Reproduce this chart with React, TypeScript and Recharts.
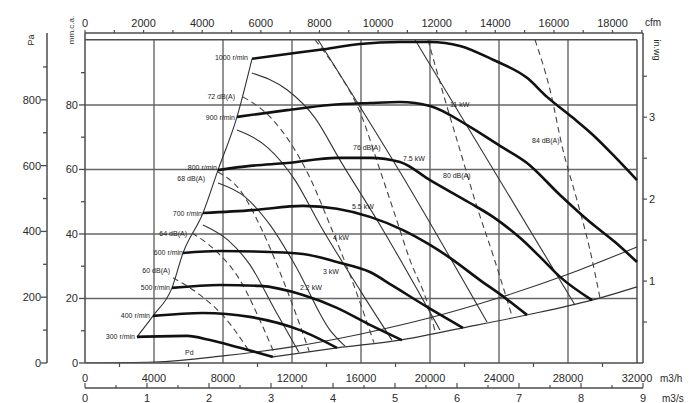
import React from 'react';
import { ComposedChart, Line, XAxis, YAxis, ReferenceLine, Scatter } from 'recharts';

type P = [number, number]; // [m3/h, mm.c.a.]

// Fan speed curves (r/min)
const rpm1000: P[] = [[9681,94.3],[11304,95.5],[13623,97.1],[15942,98.9],[18261,99.5],[20000,99.5],[21739,98.3],[23652,94.0],[25623,88.4],[26782,82.5],[28289,76.0],[29449,70.7],[30724,63.9],[32000,56.7]];
const rpm900: P[] = [[8811,76.3],[11710,78.4],[14203,80.0],[16521,80.6],[18261,80.9],[20000,79.7],[22318,73.2],[24058,67.3],[25623,62.0],[27536,52.1],[29275,43.7],[30724,37.5],[32000,31.3]];
const rpm800: P[] = [[7710,59.8],[9565,61.1],[11710,62.0],[14608,63.6],[16521,63.6],[18261,62.3],[20000,56.7],[22318,49.6],[23652,45.3],[25217,38.8],[26376,32.9],[27536,26.7],[29391,19.5]];
const rpm700: P[] = [[6840,46.5],[9739,47.4],[12637,48.7],[14608,47.8],[16521,45.3],[18434,41.2],[20000,36.6],[21159,32.6],[22898,25.7],[24347,20.2],[25623,14.9]];
const rpm600: P[] = [[5681,34.1],[7826,34.7],[10724,34.4],[12637,33.8],[14608,31.3],[16521,28.2],[17855,23.9],[19826,17.4],[21913,10.9]];
const rpm500: P[] = [[5043,23.3],[7826,24.2],[10145,23.9],[12637,21.1],[14608,17.1],[16521,11.8],[18376,7.1]];
const rpm400: P[] = [[3942,14.6],[6840,15.5],[9565,14.3],[12464,10.2],[14608,4.7]];
const rpm300: P[] = [[3014,8.1],[5913,8.4],[7246,7.1],[8985,4.7],[10898,1.9]];

// Thin curves
const boundary: P[] = [[3014,8.1],[3942,14.6],[5043,23.3],[5681,34.1],[6840,46.5],[7710,59.8],[8811,76.3],[9681,94.3]];
const limitCurve: P[] = [[10898,1.9],[14608,4.7],[18261,7.1],[21913,10.9],[25623,14.9],[29391,19.5],[32000,23.6]];
const pdCurve: P[] = [[0,0],[4000,0.3],[8000,2.2],[12000,5.0],[16000,9.0],[20000,14.0],[24000,20.2],[28000,27.5],[32000,36.0]];

// Power lines (kW)
const kw11: P[] = [[19130,100.2],[28405,18.0]];
const kw75: P[] = [[13507,100.2],[18261,59.2],[23304,12.7]];
const kw55: P[] = [[9681,89.9],[11710,84.7],[13333,76.0],[14782,62.9],[17101,42.8],[20579,10.2]];
const kw4: P[] = [[8811,72.2],[10609,66.7],[12174,56.7],[13623,42.8],[15942,22.6],[17797,7.1]];
const kw3: P[] = [[7710,55.8],[9275,51.5],[10724,42.8],[12174,30.4],[14203,10.2],[15072,5.2]];
const kw22: P[] = [[6840,42.8],[8290,38.1],[9565,30.4],[11014,16.4],[12400,3.3]];

// Sound level lines dB(A)
const db84: P[] = [[26087,100.2],[26956,84.7],[27710,66.0],[28521,50.5],[29275,35.0],[29855,20.2]];
const db80: P[] = [[19884,100.2],[20869,81.6],[21739,66.0],[22724,48.4],[23652,33.5],[24753,14.6]];
const db76: P[] = [[13333,100.2],[14782,89.3],[15942,77.8],[17101,59.8],[17971,45.9],[18840,31.9],[19884,18.0],[20290,9.9]];
const db72: P[] = [[9159,82.5],[10724,76.3],[12174,66.0],[13043,57.4],[14203,42.8],[15362,27.3],[16750,6.3]];
const db68: P[] = [[7710,59.2],[8985,53.6],[10261,41.2],[11594,24.2],[13000,3.6]];
const db64: P[] = [[6203,40.3],[7536,35.0],[8985,25.7],[10261,11.8],[11014,2.5]];
const db60: P[] = [[5100,26.4],[6667,21.1],[8116,14.0],[9600,3.0]];

// Annotations [m3/h, mm, text]
const labelsEnd: [number, number, string][] = [
  [9449,94.6,'1000 r/min'],[8696,76.0,'900 r/min'],[7652,60.5,'800 r/min'],[6782,46.5,'700 r/min'],
  [5681,34.4,'600 r/min'],[4927,23.3,'500 r/min'],[3768,14.6,'400 r/min'],[2899,8.1,'300 r/min'],
  [8696,82.5,'72 dB(A)'],[6956,57.1,'68 dB(A)'],[5913,40.3,'64 dB(A)'],[4927,28.8,'60 dB(A)'],
];
const labelsStart: [number, number, string][] = [
  [15536,66.7,'76 dB(A)'],[20753,58.0,'80 dB(A)'],[25913,69.1,'84 dB(A)'],[21159,80.0,'11 kW'],
  [18434,63.3,'7.5 kW'],[15478,48.4,'5.5 kW'],[14377,38.8,'4 kW'],[13797,28.5,'3 kW'],[12464,23.3,'2.2 kW'],[5797,3.4,'Pd'],
];

// Axes
const qTicks = [0,2000,4000,6000,8000,10000,12000,14000,16000,18000,20000,22000,24000,26000,28000,30000,32000];
const qGrid = [4000,8000,12000,16000,20000,24000,28000];
const mmTicks = [0,10,20,30,40,50,60,70,80,90];
const mmGrid = [20,40,60,80];
const paTicks = [0,100,200,300,400,500,600,700,800,900];
const cfmTicks = [0,1000,2000,3000,4000,5000,6000,7000,8000,9000,10000,11000,12000,13000,14000,15000,16000,17000,18000,19000];
const m3sTicks = [0,0.5,1,1.5,2,2.5,3,3.5,4,4.5,5,5.5,6,6.5,7,7.5,8,8.5,9];
const inTicks = [0.5,1,1.5,2,2.5,3,3.5];

const Q_MAX = 32348;
const S_MAX = 9;
const CFM_MAX = 19040;
const MM_MAX = 102.3;
const TOP_BORDER = 100.2;
const RIGHT_BORDER = 32000;

const FONT = "'Liberation Sans', Arial, Helvetica, sans-serif";
const AX = '#4d4d4d';
const TXT = '#2a2a2a';

const pts = (a: P[]) => a.map(([q, mm]) => ({ q, mm }));

const MmTick = (p: any) => {
  const { x, y, payload } = p; const v = payload.value; const major = v % 20 === 0;
  return (<g>
    <line x1={x - (major ? 6 : 4)} x2={x} y1={y} y2={y} stroke={AX} strokeWidth={1.3} />
    {major && <text x={x - 7} y={y} textAnchor="end" dominantBaseline="central" fontSize={11} fill={TXT} fontFamily={FONT}>{v}</text>}
  </g>);
};
const PaTick = (p: any) => {
  const { x, y, payload } = p; const v = payload.value; const major = v % 200 === 0;
  return (<g>
    <line x1={x - (major ? 6 : 4)} x2={x} y1={y} y2={y} stroke={AX} strokeWidth={1.3} />
    {major && <text x={x - 6} y={y} textAnchor="end" dominantBaseline="central" fontSize={11} fill={TXT} fontFamily={FONT}>{v}</text>}
  </g>);
};
const QTick = (p: any) => {
  const { x, y, payload } = p; const v = payload.value; const major = v % 4000 === 0;
  return (<g>
    {!major && <line x1={x} x2={x} y1={y} y2={y + 4} stroke={AX} strokeWidth={1.2} />}
    {major && <text x={x} y={y + 15} textAnchor="middle" dominantBaseline="central" fontSize={11} fill={TXT} fontFamily={FONT}>{v}</text>}
  </g>);
};
const STick = (p: any) => {
  const { x, y, payload } = p; const v = payload.value; const major = Number.isInteger(v);
  return (<g>
    <line x1={x} x2={x} y1={y - (major ? 5 : 3)} y2={y} stroke={AX} strokeWidth={1.2} />
    {major && <text x={x} y={y + 10} textAnchor="middle" dominantBaseline="central" fontSize={11} fill={TXT} fontFamily={FONT}>{v}</text>}
  </g>);
};
const CfmTick = (p: any) => {
  const { x, y, payload } = p; const v = payload.value; const major = v % 2000 === 0 && v <= 18000;
  return (<g>
    <line x1={x} x2={x} y1={y - 3} y2={y} stroke={AX} strokeWidth={1.2} />
    {major && <text x={x} y={y - 10} textAnchor="middle" dominantBaseline="central" fontSize={11} fill={TXT} fontFamily={FONT}>{v}</text>}
  </g>);
};
const InTick = (p: any) => {
  const { x, y, payload } = p; const v = payload.value; const major = Number.isInteger(v);
  return (<g>
    <line x1={x} x2={x + 4} y1={y} y2={y} stroke={AX} strokeWidth={1.2} />
    {major && <text x={x + 6} y={y} textAnchor="start" dominantBaseline="central" fontSize={11} fill={TXT} fontFamily={FONT}>{v}</text>}
  </g>);
};

const mkLabelShape = (anchor: 'start' | 'end') => (p: any) => (
  <text x={p.cx} y={p.cy} textAnchor={anchor} dominantBaseline="central" fontSize={7} fill="#222" fontFamily={FONT}>{p.payload.t}</text>
);

const thick = [rpm1000, rpm900, rpm800, rpm700, rpm600, rpm500, rpm400, rpm300];
const thinSolid = [boundary, limitCurve, pdCurve, kw11, kw75, kw55, kw4, kw3, kw22];
const dashed = [db84, db80, db76, db72, db68, db64, db60];

// extents of the secondary axes (so the library builds their scales)
const sExtent = [{ s: 0, mm: 0 }, { s: S_MAX, mm: 0 }];
const cfmExtent = [{ cfm: 0, mm: 0 }, { cfm: CFM_MAX, mm: 0 }];

export default function App() {
  return (
    <div style={{ position: 'absolute', left: 0, top: 0, width: 691, height: 403, background: '#fff', overflow: 'hidden' }}>
      <ComposedChart width={691} height={403} margin={{ top: 0, right: 8, bottom: 0, left: 7 }}>
        <XAxis xAxisId="q" dataKey="q" type="number" orientation="bottom" height={25} domain={[0, Q_MAX]} allowDataOverflow
          ticks={qTicks} interval={0} tick={QTick} tickSize={0} tickMargin={0} tickLine={false}
          axisLine={{ stroke: AX, strokeWidth: 1.5 }} />
        <XAxis xAxisId="s" dataKey="s" type="number" orientation="bottom" height={15} domain={[0, S_MAX]} allowDataOverflow
          ticks={m3sTicks} interval={0} tick={STick} tickSize={0} tickMargin={0} tickLine={false}
          axisLine={{ stroke: AX, strokeWidth: 1.5 }} />
        <XAxis xAxisId="cfm" dataKey="cfm" type="number" orientation="top" height={33} domain={[0, CFM_MAX]} allowDataOverflow
          ticks={cfmTicks} interval={0} tick={CfmTick} tickSize={0} tickMargin={0} tickLine={false}
          axisLine={{ stroke: AX, strokeWidth: 1.5 }} />
        <YAxis yAxisId="mm" type="number" orientation="left" width={38} domain={[0, MM_MAX]} allowDataOverflow
          ticks={mmTicks} interval={0} tick={MmTick} tickSize={0} tickMargin={0} tickLine={false}
          axisLine={{ stroke: AX, strokeWidth: 1.5 }} />
        <YAxis yAxisId="pa" type="number" orientation="left" width={40} domain={[0, MM_MAX * 9.80665]} allowDataOverflow
          ticks={paTicks} interval={0} tick={PaTick} tickSize={0} tickMargin={0} tickLine={false}
          axisLine={{ stroke: AX, strokeWidth: 1.5 }} />
        <YAxis yAxisId="in" type="number" orientation="right" width={40} domain={[0, MM_MAX / 25.4]} allowDataOverflow
          ticks={inTicks} interval={0} tick={InTick} tickSize={0} tickMargin={0} tickLine={false}
          axisLine={{ stroke: AX, strokeWidth: 1.5 }} />

        <Line xAxisId="s" yAxisId="mm" data={sExtent} dataKey="mm" stroke="none" strokeWidth={0} dot={false} activeDot={false} legendType="none" isAnimationActive={false} />
        <Line xAxisId="cfm" yAxisId="mm" data={cfmExtent} dataKey="mm" stroke="none" strokeWidth={0} dot={false} activeDot={false} legendType="none" isAnimationActive={false} />

        {qGrid.map((q) => (
          <ReferenceLine key={'vg' + q} xAxisId="q" yAxisId="mm" segment={[{ x: q, y: 0 }, { x: q, y: TOP_BORDER }]} stroke="#666" strokeWidth={1.4} />
        ))}
        {mmGrid.map((m) => (
          <ReferenceLine key={'hg' + m} xAxisId="q" yAxisId="mm" segment={[{ x: 0, y: m }, { x: RIGHT_BORDER, y: m }]} stroke="#666" strokeWidth={1.4} />
        ))}
        <ReferenceLine xAxisId="q" yAxisId="mm" segment={[{ x: 0, y: TOP_BORDER }, { x: RIGHT_BORDER, y: TOP_BORDER }]} stroke={AX} strokeWidth={1.5} />
        <ReferenceLine xAxisId="q" yAxisId="mm" segment={[{ x: RIGHT_BORDER, y: 0 }, { x: RIGHT_BORDER, y: TOP_BORDER }]} stroke={AX} strokeWidth={1.5} />

        {thinSolid.map((d, i) => (
          <Line key={'ts' + i} xAxisId="q" yAxisId="mm" data={pts(d)} dataKey="mm" type="monotone" stroke="#333" strokeWidth={1.1} dot={false} isAnimationActive={false} />
        ))}
        {dashed.map((d, i) => (
          <Line key={'ds' + i} xAxisId="q" yAxisId="mm" data={pts(d)} dataKey="mm" type="monotone" stroke="#444" strokeWidth={1.1} strokeDasharray="6 4" dot={false} isAnimationActive={false} />
        ))}
        {thick.map((d, i) => (
          <Line key={'tk' + i} xAxisId="q" yAxisId="mm" data={pts(d)} dataKey="mm" type="monotone" stroke="#111" strokeWidth={2.6} dot={false} isAnimationActive={false} />
        ))}
        <Scatter xAxisId="q" yAxisId="mm" data={labelsEnd.map(([q, mm, t]) => ({ q, mm, t }))} dataKey="mm" shape={mkLabelShape('end')} isAnimationActive={false} />
        <Scatter xAxisId="q" yAxisId="mm" data={labelsStart.map(([q, mm, t]) => ({ q, mm, t }))} dataKey="mm" shape={mkLabelShape('start')} isAnimationActive={false} />
      </ComposedChart>
      <svg width={691} height={403} style={{ position: 'absolute', left: 0, top: 0, pointerEvents: 'none' }}>
        <text x={31} y={40} transform="rotate(-90 31 40)" textAnchor="middle" dominantBaseline="central" fontSize={9} fill={TXT} fontFamily={FONT}>Pa</text>
        <text x={71} y={30} transform="rotate(-90 71 30)" textAnchor="middle" dominantBaseline="central" fontSize={8} fill={TXT} fontFamily={FONT}>mm.c.a.</text>
        <text x={645} y={22} textAnchor="start" dominantBaseline="central" fontSize={10} fill={TXT} fontFamily={FONT}>cfm</text>
        <text x={660} y={378} textAnchor="start" dominantBaseline="central" fontSize={10} fill={TXT} fontFamily={FONT}>m3/h</text>
        <text x={662} y={398} textAnchor="start" dominantBaseline="central" fontSize={10} fill={TXT} fontFamily={FONT}>m3/s</text>
        <text x={657} y={50} transform="rotate(90 657 50)" textAnchor="middle" dominantBaseline="central" fontSize={9} fill={TXT} fontFamily={FONT}>in.wg</text>
      </svg>
    </div>
  );
}
